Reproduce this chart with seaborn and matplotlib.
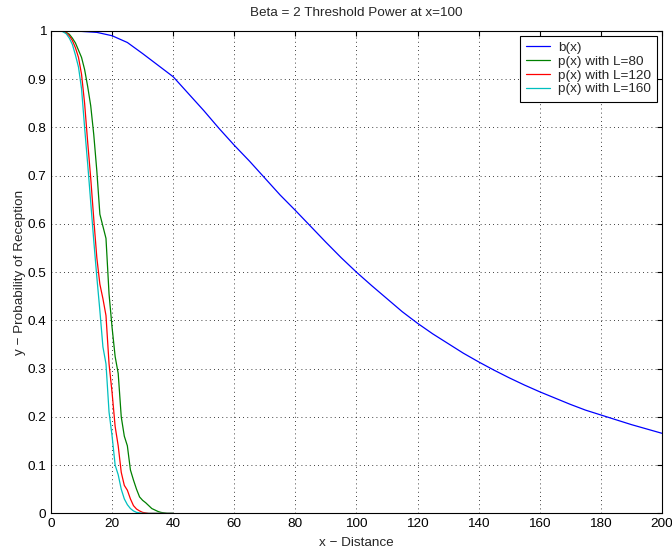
import numpy as np
import pandas as pd
import matplotlib
matplotlib.use("Agg")
import matplotlib.pyplot as plt
import seaborn as sns

# b(x), read every 5 units of distance
x_b = [0, 5, 10, 15, 20, 25, 30, 35, 40, 45, 50, 55, 60, 65, 70, 75, 80, 85, 90, 95, 100,
       105, 110, 115, 120, 125, 130, 135, 140, 145, 150, 155, 160, 165, 170, 175, 180,
       185, 190, 195, 200]
b_x = [1.0, 1.0, 0.999, 0.997, 0.99, 0.976, 0.953, 0.929, 0.905, 0.87, 0.835, 0.798,
       0.763, 0.73, 0.695, 0.66, 0.628, 0.595, 0.562, 0.53, 0.5, 0.472, 0.445, 0.418,
       0.394, 0.372, 0.352, 0.332, 0.314, 0.297, 0.281, 0.266, 0.252, 0.239, 0.226,
       0.214, 0.204, 0.194, 0.184, 0.175, 0.166]

# p(x) curves, read every unit from 0 to 40
x_p = list(range(0, 41))
p_80 = [1, 1, 1, 1, 0.999, 0.997, 0.993, 0.985, 0.975, 0.96, 0.945, 0.92, 0.885, 0.845,
        0.785, 0.71, 0.62, 0.595, 0.57, 0.455, 0.385, 0.325, 0.29, 0.2, 0.16, 0.14,
        0.09, 0.069, 0.05, 0.034, 0.027, 0.022, 0.016, 0.01, 0.007, 0.004, 0.002,
        0.001, 0, 0, 0]
p_120 = [1, 1, 1, 1, 0.999, 0.996, 0.99, 0.98, 0.965, 0.945, 0.91, 0.85, 0.77, 0.695,
         0.61, 0.53, 0.475, 0.445, 0.41, 0.31, 0.25, 0.18, 0.14, 0.085, 0.058, 0.048,
         0.03, 0.016, 0.009, 0.005, 0.002, 0.001, 0, 0, 0, 0, 0, 0, 0, 0, 0]
p_160 = [1, 1, 1, 1, 0.998, 0.994, 0.985, 0.972, 0.95, 0.925, 0.88, 0.8, 0.725, 0.645,
         0.565, 0.49, 0.42, 0.345, 0.31, 0.21, 0.16, 0.1, 0.08, 0.05, 0.03, 0.018,
         0.01, 0.005, 0.002, 0.001, 0, 0, 0, 0, 0, 0, 0, 0, 0, 0, 0]

labels = ["b(x)", "p(x) with L=80", "p(x) with L=120", "p(x) with L=160"]
colors = ["#0000ff", "#008000", "#ff0000", "#00bfbf"]

sns.set_style("white")
plt.rcParams["font.family"] = ["Liberation Sans", "DejaVu Sans"]
fs = 9.7

fig = plt.figure(figsize=(6.72, 5.52), dpi=100)
ax = fig.add_axes([0.0759, 0.070, 0.909, 0.874])

series = [(x_b, b_x), (x_p, p_80), (x_p, p_120), (x_p, p_160)]
for (xs, ys), lab, col in zip(series, labels, colors):
    sns.lineplot(x=xs, y=ys, ax=ax, color=col, label=lab, linewidth=0.9,
                 estimator=None, sort=False)

ax.set_xlim(0, 200)
ax.set_ylim(0, 1)
ax.set_xticks(np.arange(0, 201, 20))
ax.set_yticks(np.arange(0, 1.01, 0.1))
ax.set_yticklabels(["0", "0.1", "0.2", "0.3", "0.4", "0.5", "0.6", "0.7", "0.8", "0.9", "1"])
ax.grid(True, color="black", linestyle=(0, (1, 4)), linewidth=0.6)
ax.tick_params(direction="in", top=True, right=True, length=3.6, width=0.8,
               labelsize=fs, colors="black", pad=3.5)
for sp in ax.spines.values():
    sp.set_color("black")
    sp.set_linewidth(0.8)

ax.set_title("Beta = 2 Threshold Power at x=100", fontsize=fs, pad=11)
ax.set_xlabel("x \u2212 Distance", fontsize=fs, labelpad=5)
ax.set_ylabel("y \u2212 Probability of Reception", fontsize=fs, labelpad=1)

leg = ax.legend(loc="upper right", fontsize=fs, frameon=True, fancybox=False,
                edgecolor="black", framealpha=1, borderaxespad=0.35,
                handlelength=1.8, handletextpad=0.6, labelspacing=0.1,
                borderpad=0.45)
leg.get_frame().set_linewidth(0.8)

fig.savefig("out.png", dpi=100)
